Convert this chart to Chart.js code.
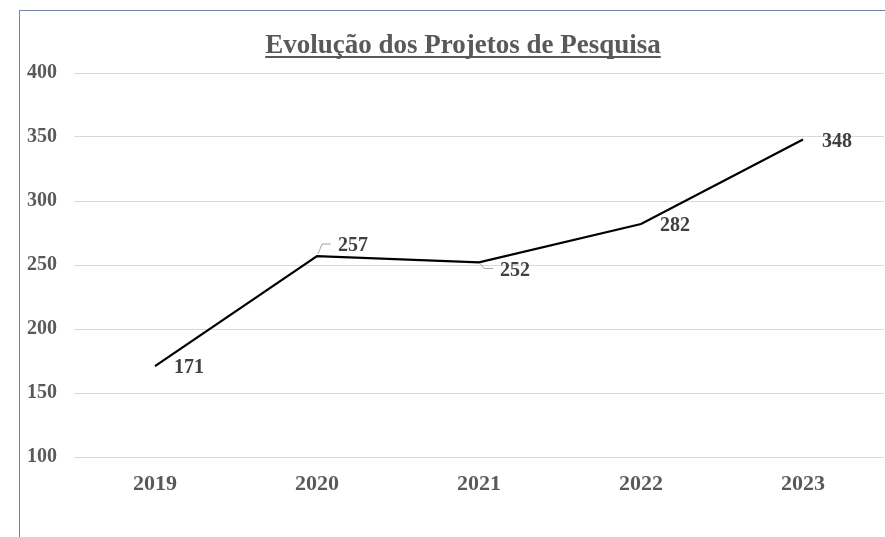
<!DOCTYPE html>
<html>
<head>
<meta charset="utf-8">
<title>Evolução dos Projetos de Pesquisa</title>
<script src="https://cdn.jsdelivr.net/npm/chart.js@4/dist/chart.umd.min.js"></script>
<style>
  html, body { margin: 0; padding: 0; background: #fff; overflow: hidden; }
  #box {
    position: absolute; left: 19px; top: 10px;
    width: 878px; height: 560px;
    border: 1px solid #7384a6;
    background: #fff;
  }
  canvas { display: block; }
</style>
</head>
<body>
<div id="box"><canvas id="chart" width="878" height="560"></canvas></div>
<script>
// ====== dados ======
const anos = ['2019', '2020', '2021', '2022', '2023'];
const projetos = [171, 257, 252, 282, 348];
const yTicks = [100, 150, 200, 250, 300, 350, 400];
// posição do rótulo de cada ponto
const posRotulo = ['right', 'above', 'below', 'right', 'right'];

const TITULO = 'Evolução dos Projetos de Pesquisa';
const FONTE = "'Liberation Serif', 'Times New Roman', serif";
const CINZA = '#595959';

// título sublinhado
const tituloPlugin = {
  id: 'tituloSublinhado',
  afterDraw(chart){
    const ctx = chart.ctx;
    ctx.save();
    ctx.font = 'bold 27px ' + FONTE;
    ctx.fillStyle = CINZA;
    ctx.textAlign = 'center';
    ctx.textBaseline = 'alphabetic';
    const cx = 443, base = 42;
    ctx.fillText(TITULO, cx, base);
    const w = ctx.measureText(TITULO).width;
    ctx.fillRect(cx - w/2, base + 3, w, 2);
    ctx.restore();
  }
};

// rótulos de valor, com linha de chamada quando deslocados
const rotulosPlugin = {
  id: 'rotulosValor',
  afterDatasetsDraw(chart){
    const ctx = chart.ctx;
    const meta = chart.getDatasetMeta(0);
    ctx.save();
    ctx.font = 'bold 20px ' + FONTE;
    ctx.fillStyle = '#404040';
    ctx.textBaseline = 'middle';
    ctx.textAlign = 'left';
    meta.data.forEach((pt, i) => {
      const txt = String(projetos[i]);
      const pos = posRotulo[i];
      if(pos === 'right'){
        ctx.fillText(txt, pt.x + 19, pt.y + 2);
      } else {
        const dy = pos === 'above' ? -12 : 6;
        ctx.strokeStyle = '#a6a6a6';
        ctx.lineWidth = 1;
        ctx.beginPath();
        ctx.moveTo(pt.x + 1, pt.y + (pos === 'above' ? -2 : 1));
        ctx.lineTo(pt.x + 5, pt.y + dy);
        ctx.lineTo(pt.x + 14, pt.y + dy);
        ctx.stroke();
        ctx.fillText(txt, pt.x + 21, pt.y + dy + 2);
      }
    });
    ctx.restore();
  }
};

const ctx = document.getElementById('chart').getContext('2d');
new Chart(ctx, {
  type: 'line',
  data: {
    labels: anos,
    datasets: [{
      data: projetos,
      borderColor: '#000',
      borderWidth: 2.25,
      pointRadius: 0,
      fill: false,
      tension: 0
    }]
  },
  options: {
    responsive: false,
    animation: false,
    layout: { padding: { top: 62, right: 14, left: 0, bottom: 0 } },
    plugins: {
      legend: { display: false },
      title: { display: false },
      tooltip: { enabled: false }
    },
    scales: {
      x: {
        offset: true,
        grid: { display: false, drawTicks: false },
        border: { display: false },
        ticks: {
          padding: 14,
          color: CINZA,
          font: { family: FONTE, size: 22, weight: 'bold' }
        },
        afterFit(scale){ scale.height = 114; }
      },
      y: {
        min: yTicks[0],
        max: yTicks[yTicks.length - 1],
        afterBuildTicks(scale){ scale.ticks = yTicks.map(v => ({ value: v })); },
        grid: { color: '#d9d9d9', lineWidth: 1, drawTicks: false },
        border: { display: false },
        ticks: {
          padding: 17,
          color: CINZA,
          font: { family: FONTE, size: 20, weight: 'bold' }
        },
        afterFit(scale){ scale.width = 54; }
      }
    }
  },
  plugins: [tituloPlugin, rotulosPlugin]
});
</script>
</body>
</html>
